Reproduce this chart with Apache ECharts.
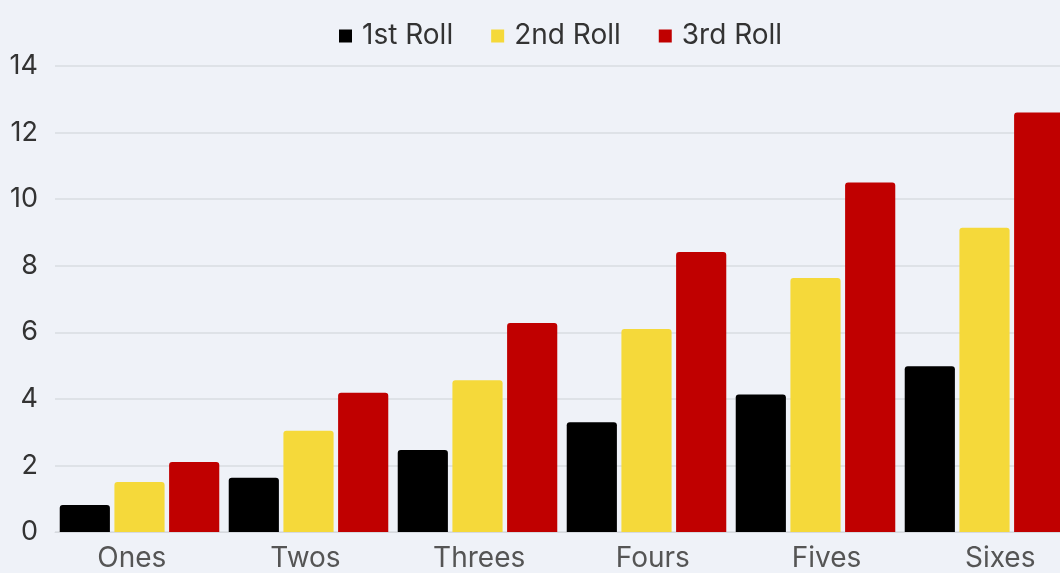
<!DOCTYPE html>
<html>
<head>
<meta charset="utf-8">
<script src="https://cdn.jsdelivr.net/npm/echarts@6/dist/echarts.min.js"></script>
<style>
html,body{margin:0;padding:0;background:#eff2f8;}
#c{width:1060px;height:573px;}
</style>
</head>
<body>
<div id="c"></div>
<script>
const categories = ['Ones','Twos','Threes','Fours','Fives','Sixes'];
const seriesNames = ['1st Roll','2nd Roll','3rd Roll'];
const roll1 = [0.81, 1.63, 2.46, 3.3, 4.13, 4.98];
const roll2 = [1.5, 3.04, 4.56, 6.1, 7.63, 9.14];
const roll3 = [2.1, 4.18, 6.28, 8.41, 10.5, 12.6];
const yTicks = [0, 2, 4, 6, 8, 10, 12, 14];
const colors = ['#000000', '#f5d93a', '#c00000'];

const chart = echarts.init(document.getElementById('c'));
const font = 'Inter';
const mk = (name, data, color) => ({
  name, type: 'bar', data,
  barCategoryGap: '5.6%', barGap: '9%',
  itemStyle: { color, borderRadius: [3,3,0,0] }
});
chart.setOption({
  backgroundColor: '#eff2f8',
  textStyle: { fontFamily: font },
  legend: {
    top: 17, left: 334,
    itemWidth: 13, itemHeight: 13, itemGap: 38,
    icon: 'rect',
    textStyle: { fontSize: 28, color: '#333', fontFamily: font, padding: [0,0,0,5] },
    data: seriesNames
  },
  grid: [
    { left: 55, width: 1014, top: 66, bottom: 41, containLabel: false, outerBoundsMode: 'none' },
    { left: 45, width: 1042, top: 66, bottom: 41, containLabel: false, outerBoundsMode: 'none' }
  ],
  xAxis: [{
    type: 'category', data: categories, gridIndex: 0,
    axisLine: { show: true, lineStyle: { color: '#d6d9df' } },
    axisTick: { show: false },
    axisLabel: { show: false }
  }, {
    type: 'category', data: categories, gridIndex: 1,
    axisLine: { show: false },
    axisTick: { show: false },
    splitLine: { show: false },
    axisLabel: { fontSize: 28, color: '#555', margin: 13, fontFamily: font }
  }],
  yAxis: [{
    type: 'value', min: yTicks[0], max: yTicks[yTicks.length-1], interval: 2, gridIndex: 0,
    axisLine: { show: false }, axisTick: { show: false },
    splitLine: { lineStyle: { color: '#d9dce2', width: 1.5 } },
    axisLabel: { fontSize: 27, color: '#333', margin: 17, fontFamily: font }
  }, {
    type: 'value', min: 0, max: 14, gridIndex: 1, show: false,
    splitLine: { show: false }
  }],
  series: [mk(seriesNames[0], roll1, colors[0]), mk(seriesNames[1], roll2, colors[1]), mk(seriesNames[2], roll3, colors[2])]
});
</script>
</body>
</html>
